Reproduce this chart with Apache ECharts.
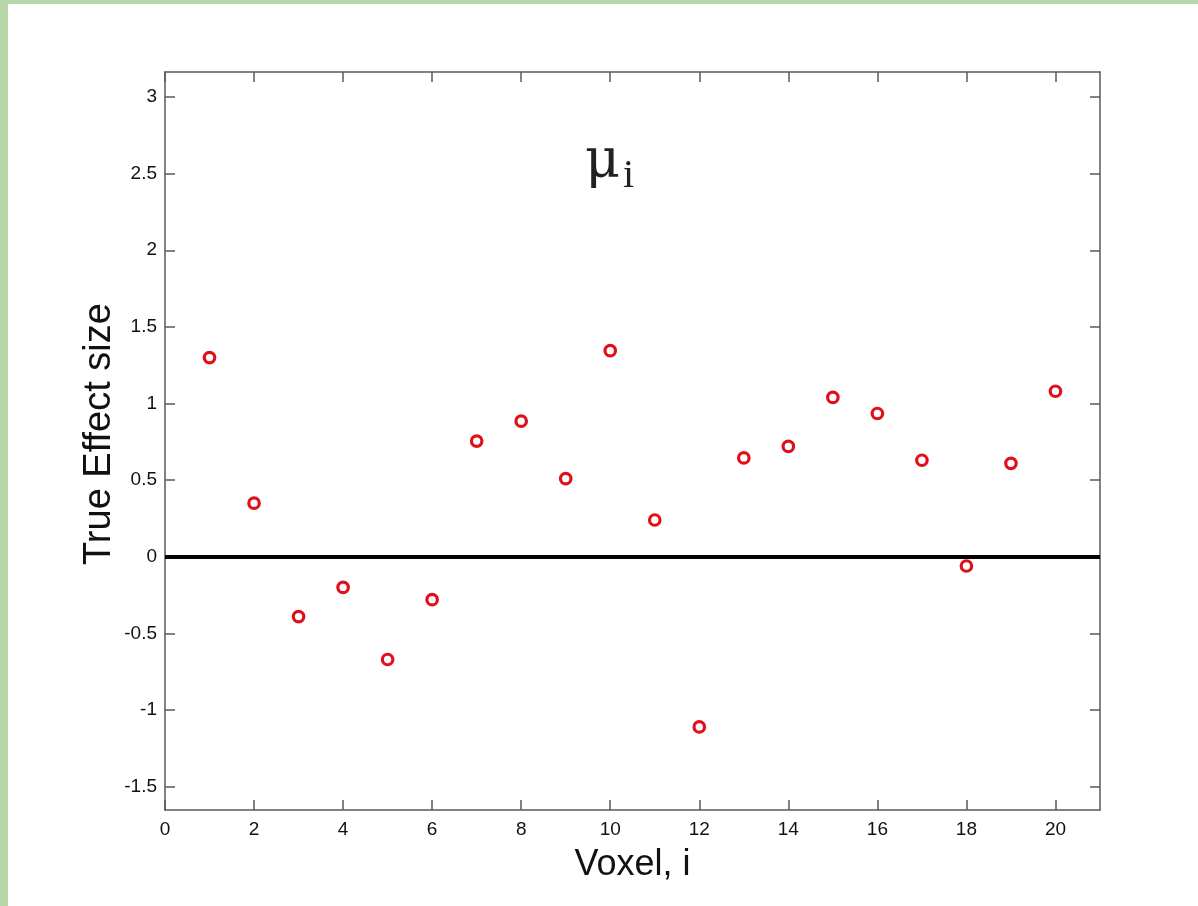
<!DOCTYPE html>
<html>
<head>
<meta charset="utf-8">
<script src="https://cdn.jsdelivr.net/npm/echarts@6/dist/echarts.min.js"></script>
<style>
  html, body { margin: 0; padding: 0; }
  #wrap { position: relative; width: 1198px; height: 906px; background: #b7d6a9; overflow: hidden; }
  #paper { position: absolute; left: 8px; top: 4px; right: 0; bottom: 0; background: #ffffff; }
  #main { position: absolute; left: 0; top: 0; width: 1198px; height: 906px; }
</style>
</head>
<body>
<div id="wrap">
  <div id="paper"></div>
  <div id="main"></div>
</div>
<script>
// Data
const voxels = [1, 2, 3, 4, 5, 6, 7, 8, 9, 10, 11, 12, 13, 14, 15, 16, 17, 18, 19, 20];
const effectSize = [1.30, 0.35, -0.39, -0.20, -0.67, -0.28, 0.755, 0.885, 0.51, 1.345,
                    0.24, -1.11, 0.645, 0.72, 1.04, 0.935, 0.63, -0.06, 0.61, 1.08];
const xTicks = [0, 2, 4, 6, 8, 10, 12, 14, 16, 18, 20];
const yTicks = [-1.5, -1, -0.5, 0, 0.5, 1, 1.5, 2, 2.5, 3];
const xLabel = 'Voxel, i';
const yLabel = 'True Effect size';
const titleMain = 'μ';
const titleSub = 'i';

const points = voxels.map((v, i) => [v, effectSize[i]]);

const axisColor = '#5a5a5a';
const textColor = '#111111';
const font = 'Liberation Sans, Arial, sans-serif';

const chart = echarts.init(document.getElementById('main'), null, { renderer: 'canvas' });

const baseX = {
  type: 'value', min: 0, max: 21,
  axisLine: { show: true, onZero: false, lineStyle: { color: axisColor, width: 1.5 } },
  axisTick: { show: true, inside: true, length: 10, customValues: xTicks, lineStyle: { color: axisColor, width: 1.5 } },
  splitLine: { show: false }
};
const baseY = {
  type: 'value', min: -1.652, max: 3.163,
  axisLine: { show: true, onZero: false, lineStyle: { color: axisColor, width: 1.5 } },
  axisTick: { show: true, inside: true, length: 10, customValues: yTicks, lineStyle: { color: axisColor, width: 1.5 } },
  splitLine: { show: false }
};

chart.setOption({
  animation: false,
  backgroundColor: 'transparent',
  grid: { left: 165, right: 98, top: 72, bottom: 96, containLabel: false },
  xAxis: [
    Object.assign({}, baseX, {
      position: 'bottom',
      axisLabel: { show: true, customValues: xTicks, color: textColor, fontSize: 19, fontFamily: font, margin: 10 },
      name: xLabel, nameLocation: 'middle', nameGap: 37, nameMoveOverlap: false,
      nameTextStyle: { color: textColor, fontSize: 36, fontFamily: font }
    }),
    Object.assign({}, baseX, { position: 'top', axisLabel: { show: false } })
  ],
  yAxis: [
    Object.assign({}, baseY, {
      position: 'left',
      axisLabel: { show: true, customValues: yTicks, color: textColor, fontSize: 19, fontFamily: font, margin: 8 },
      name: yLabel, nameLocation: 'middle', nameGap: 46, nameRotate: 90, nameMoveOverlap: false,
      nameTextStyle: { color: textColor, fontSize: 38, fontFamily: font, padding: [0, 0, 0, 14] }
    }),
    Object.assign({}, baseY, { position: 'right', axisLabel: { show: false } })
  ],
  graphic: [
    { type: 'text', left: 585, top: 136, style: { text: titleMain, font: '54px "DejaVu Serif", "Liberation Serif", serif', fill: '#222' } },
    { type: 'text', left: 623, top: 156, style: { text: titleSub, font: '40px "Liberation Serif", "Times New Roman", serif', fill: '#222' } }
  ],
  series: [
    {
      type: 'scatter',
      xAxisIndex: 0, yAxisIndex: 0,
      data: points,
      symbol: 'circle',
      symbolSize: 10.5,
      itemStyle: { color: '#ffffff', borderColor: '#e0101a', borderWidth: 3.2, opacity: 1 },
      z: 5,
      markLine: {
        silent: true,
        symbol: 'none',
        label: { show: false },
        lineStyle: { color: '#000000', width: 4, type: 'solid' },
        data: [{ yAxis: 0 }],
        z: 3
      }
    }
  ]
});
</script>
</body>
</html>
